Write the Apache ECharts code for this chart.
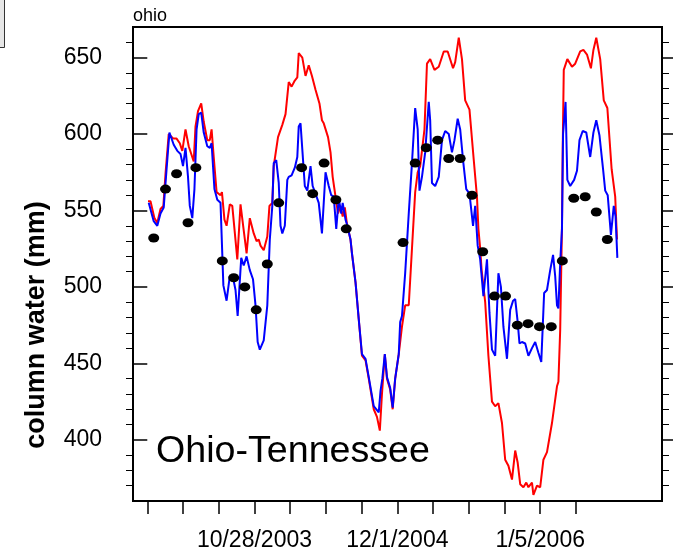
<!DOCTYPE html>
<html>
<head>
<meta charset="utf-8">
<script src="https://cdn.jsdelivr.net/npm/echarts@6/dist/echarts.min.js"></script>
<style>html,body{margin:0;padding:0;background:#fff;}#c{width:673px;height:552px;}</style>
</head>
<body>
<div id="c"></div>
<script>
// x values are days since 1 Jan 2003
const redX = [2,9,20,28,37,45,51,60,73,82,91,98,107,116,130,135,142,151,158,168,175,180,186,194,205,209,216,222,231,238,252,261,270,278,287,298,306,312,317,326,336,342,350,354,366,378,387,396,404,413,420,424,434,443,452,461,471,482,489,494,499,506,513,519,527,534,541,547,553,559,569,573,583,592,601,611,620,634,643,651,657,665,671,680,687,694,704,713,722,732,741,750,757,764,776,783,792,804,816,830,841,856,862,872,881,890,902,914,923,927,932,936,946,955,965,974,983,993,1002,1011,1021,1030,1037,1044,1053,1061,1067,1077,1081,1091,1100,1109,1119,1133,1147,1151,1156,1161,1163,1166,1176,1189,1198,1212,1221,1231,1242,1249,1257,1268,1278,1288,1300,1310,1315];
const redY = [556,556,545,542,551,553,574,600,597,597,594,589,603,592,582,605,615,620,608,596,596,603,585,562,560,562,544,540,554,553,518,554,537,522,545,535,530,531,527,524,533,553,555,579,598,606,613,634,631,635,637,653,650,638,645,638,629,620,609,607,608,598,588,572,559,548,553,546,552,541,531,522,503,479,455,452,440,420,415,406,430,456,440,433,420,440,456,474,488,488,525,562,575,579,603,646,649,642,644,654,654,643,647,663,649,622,616,583,559,538,525,511,490,455,425,422,424,411,387,383,374,393,385,371,369,372,369,372,364,370,369,387,392,411,435,438,472,540,590,642,649,644,646,654,655,652,643,655,663,649,622,617,577,559,531];
const blueX = [4,18,28,37,46,54,62,74,84,93,100,107,114,119,126,132,138,144,151,158,168,175,180,188,196,205,213,222,231,241,247,253,263,270,278,287,296,303,309,315,326,336,343,350,354,361,368,373,378,385,392,396,404,413,420,424,429,434,441,448,457,463,471,480,489,499,508,515,522,529,536,543,547,555,559,569,573,583,592,601,611,620,634,648,653,658,665,671,680,687,694,704,708,713,722,732,741,750,757,762,769,778,788,792,797,806,816,825,834,844,853,860,869,876,884,893,902,912,918,925,932,941,951,958,965,974,983,990,997,1007,1016,1024,1030,1037,1042,1049,1058,1067,1077,1086,1095,1103,1111,1119,1128,1136,1142,1147,1151,1156,1161,1164,1171,1176,1184,1195,1203,1210,1219,1229,1240,1249,1257,1266,1276,1282,1289,1298,1306,1311,1316];
const blueY = [555,543,540,548,552,577,601,593,589,587,579,591,572,553,545,564,603,613,614,601,592,591,594,564,557,555,501,491,507,505,498,481,519,514,520,511,505,488,464,459,465,488,531,553,581,583,568,540,535,540,570,572,573,578,585,605,607,590,566,563,579,566,561,555,535,575,566,560,559,538,558,548,555,544,541,531,522,503,479,456,453,441,422,418,432,440,456,441,434,421,440,456,477,481,509,548,581,617,603,563,572,588,621,609,568,566,572,596,602,600,588,596,610,603,583,564,561,540,553,527,518,494,518,483,459,455,509,500,474,453,485,491,492,477,463,464,463,455,460,464,457,451,496,498,511,521,507,488,486,516,538,600,621,570,566,570,576,596,602,601,585,601,609,599,577,563,560,534,553,546,519];
const dotX = [18,51,82,114,136,210,242,273,305,336,368,432,463,495,528,557,716,750,781,813,844,876,909,939,972,1003,1036,1066,1098,1131,1162,1194,1226,1257,1288];
const dotY = [532,564,574,542,578,517,506,500,485,515,555,578,561,581,557,538,529,581,591,596,584,584,560,523,494,494,475,476,474,474,517,558,559,549,531];
const xTicks = [0,100,200,300,400,500,600,700,800,900,1000,1100,1200];
const xLabelDays = [300,700,1100];
const xLabelText = ['10/28/2003','12/1/2004','1/5/2006'];
const yMajor = [400,450,500,550,600,650];
const yMinor = [370,380,390,410,420,430,440,460,470,480,490,510,520,530,540,560,570,580,590,610,620,630,640,660];

const pair = (xs, ys) => xs.map((x, i) => [x, ys[i]]);
const FONT = 'Liberation Sans, Arial, Helvetica, sans-serif';

function yAx(pos, vals, len, labels) {
  return {
    type: 'value', position: pos, min: 360, max: 670,
    axisLine: {show: false},
    splitLine: {show: false},
    axisTick: {show: true, inside: false, length: len, customValues: vals, lineStyle: {color: '#000', width: len > 10 ? 1.5 : 1}},
    axisLabel: labels ? {show: true, customValues: vals, margin: 31, fontSize: 23, color: '#000', fontFamily: FONT} : {show: false}
  };
}

const chart = echarts.init(document.getElementById('c'), null, {renderer: 'canvas'});
chart.setOption({
  animation: false,
  backgroundColor: '#fff',
  grid: {left: 133, right: 11, top: 27, bottom: 50, show: true, borderColor: '#000', borderWidth: 2, backgroundColor: 'transparent'},
  xAxis: {
    type: 'value', min: -40, max: 1441,
    axisLine: {show: false},
    splitLine: {show: false},
    axisTick: {show: true, length: 13, customValues: xTicks, lineStyle: {color: '#000', width: 1.5}},
    axisLabel: {
      show: true, customValues: xLabelDays, margin: 28, fontSize: 23, color: '#000', fontFamily: FONT,
      formatter: v => { const i = xLabelDays.indexOf(Math.round(v)); return i >= 0 ? xLabelText[i] : ''; }
    }
  },
  yAxis: [yAx('left', yMajor, 14, true), yAx('left', yMinor, 7, false), yAx('right', yMajor, 14, false), yAx('right', yMinor, 7, false)],
  graphic: [
    {type: 'rect', shape: {x: -5, y: -5, width: 9.5, height: 52.5}, style: {fill: '#e6e6e6', stroke: '#333', lineWidth: 1}},
    {type: 'text', x: 133, y: 25, style: {text: 'ohio', font: '18px ' + FONT, fill: '#000', textVerticalAlign: 'bottom'}},
    {type: 'text', x: 37, y: 325, rotation: Math.PI / 2, style: {text: 'column water (mm)', font: 'bold 27px ' + FONT, fill: '#000', textAlign: 'center', textVerticalAlign: 'middle'}},
    {type: 'text', x: 156, y: 452, scaleX: 1.045, style: {text: 'Ohio-Tennessee', font: '36px ' + FONT, fill: '#000', textVerticalAlign: 'middle'}}
  ],
  series: [
    {type: 'line', data: pair(redX, redY), showSymbol: false, lineStyle: {color: '#ff0000', width: 2}, z: 2},
    {type: 'line', data: pair(blueX, blueY), showSymbol: false, lineStyle: {color: '#0000ff', width: 2}, z: 3},
    {type: 'scatter', data: pair(dotX, dotY), symbol: 'circle', symbolSize: [11, 9], itemStyle: {color: '#000', opacity: 1}, z: 4}
  ]
});
</script>
</body>
</html>
